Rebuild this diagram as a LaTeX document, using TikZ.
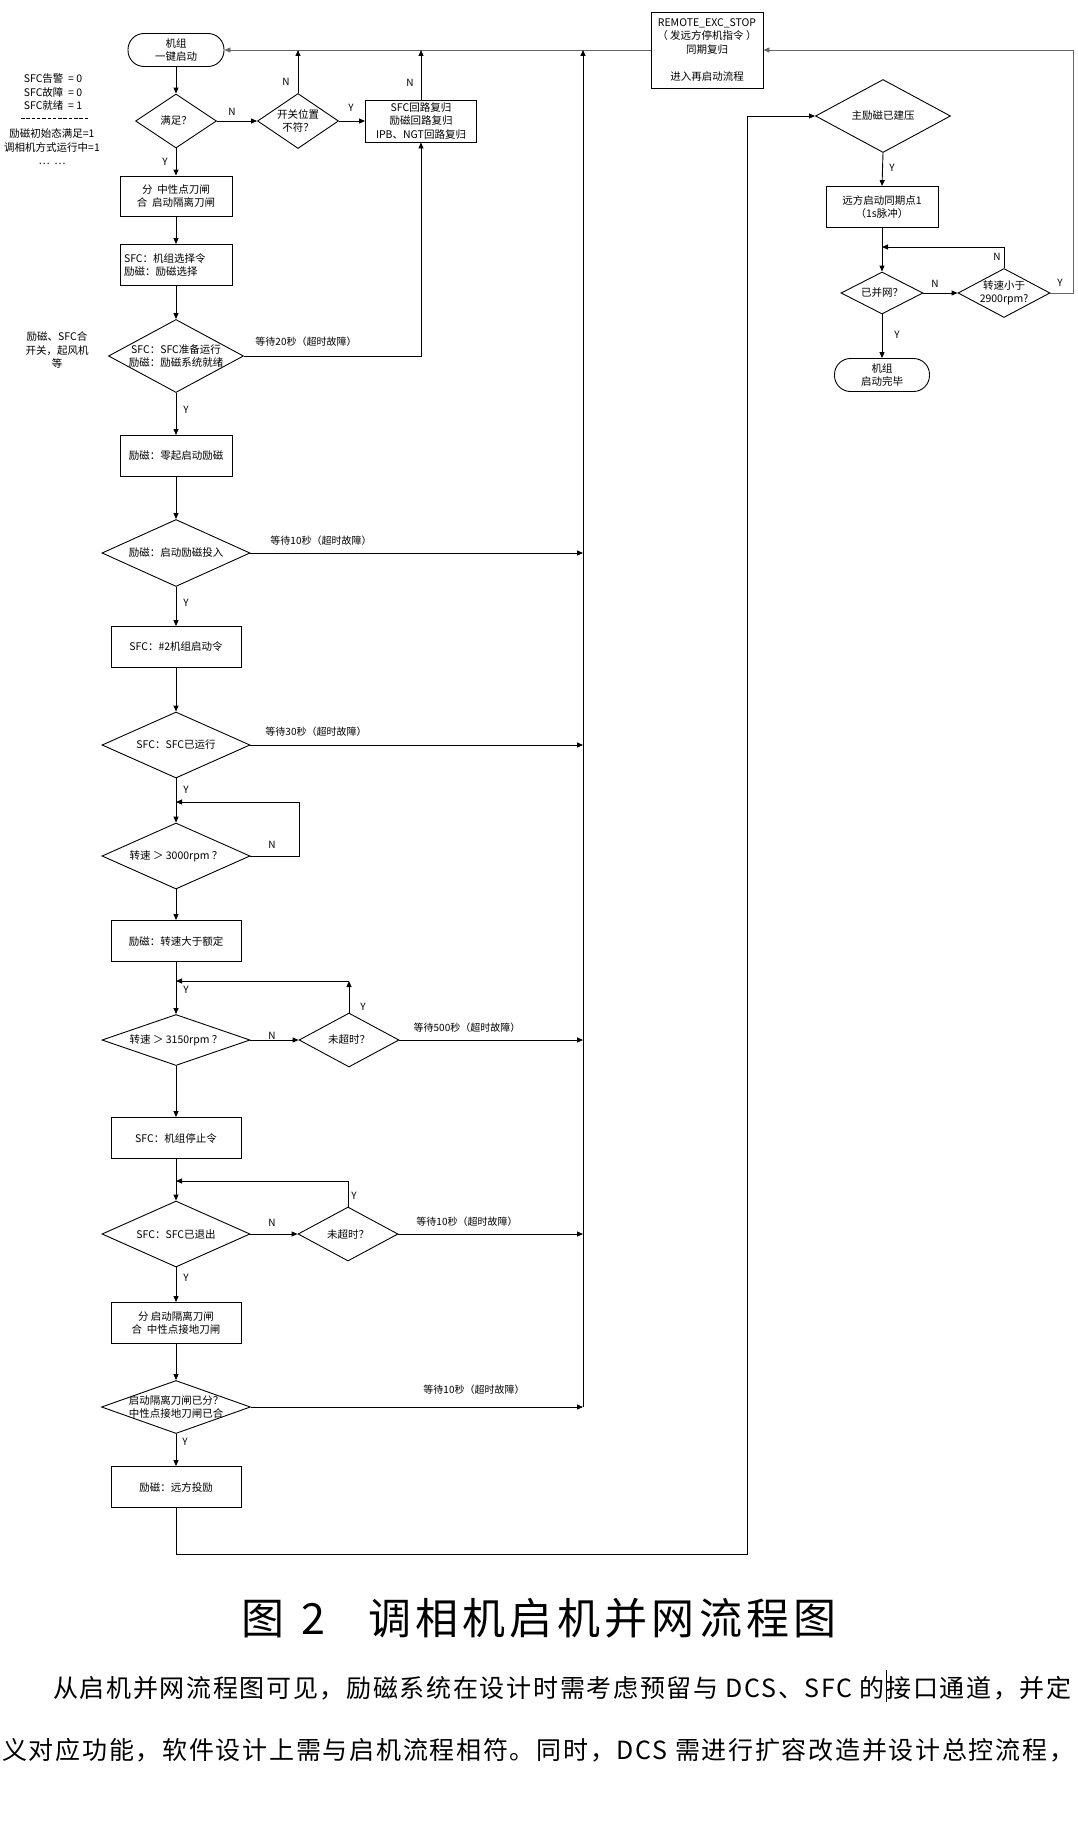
\documentclass[tikz,border=0pt]{standalone}
\usepackage{fontspec}
\usetikzlibrary{shapes.geometric,arrows.meta}
\newfontfamily\cjk{Noto Sans CJK SC}
\newfontfamily\capfont[LetterSpace=10]{Noto Sans CJK SC}
\newfontfamily\parfontA[LetterSpace=6.7]{Noto Sans CJK SC}
\newfontfamily\parfontB[LetterSpace=6.9]{Noto Sans CJK SC}
\tikzset{
  base/.style={font=\cjk\fontsize{10.5}{13.5}\selectfont, inner sep=0pt, align=center},
  box/.style={base, draw, line width=0.9pt, rectangle},
  term/.style={base, draw, line width=0.9pt, rectangle, rounded corners=16pt},
  dia/.style={draw, line width=0.9pt, diamond, inner sep=0pt},
  lab/.style={font=\cjk\fontsize{10}{12}\selectfont, inner sep=0pt},
  arr/.style={-{Triangle[length=6pt,width=5pt]}, line width=0.9pt},
  ln/.style={line width=0.9pt},
  mainln/.style={line width=1.3pt, draw=black!60},
  note/.style={font=\cjk\fontsize{10.5}{13.5}\selectfont, inner sep=0pt, align=center},
}
\begin{document}
\begin{tikzpicture}[x=1pt,y=-1pt]
\useasboundingbox[fill=white] (0,0) rectangle (1077,1844);

% ---------- left column ----------
\node[term, minimum width=96pt, minimum height=33pt] (start) at (176,50) {机组\\一键启动};
\node[dia, minimum width=81pt, minimum height=54pt, label={[base]center:满足？}] (d1) at (176,121) {};
\node[dia, minimum width=81pt, minimum height=55pt, label={[base]center:开关位置\\不符？}] (d2) at (298,121) {};
\node[box, minimum width=111pt, minimum height=42pt] (reset) at (421,121) {SFC回路复归\\励磁回路复归\\IPB、NGT回路复归};
\node[box, minimum width=112pt, minimum height=40pt] (b1) at (176,196) {分\ \ 中性点刀闸\\合\ \ 启动隔离刀闸};
\node[box, minimum width=112pt, minimum height=41pt, text width=104pt, align=left] (b2) at (176,265) {SFC：机组选择令\\励磁：励磁选择};
\node[dia, minimum width=135pt, minimum height=73pt, label={[base]center:SFC：SFC准备运行\\励磁：励磁系统就绪}] (d3) at (176,356) {};
\node[box, minimum width=112pt, minimum height=41pt] (b3) at (176,456) {励磁：零起启动励磁};
\node[dia, minimum width=148pt, minimum height=67pt, label={[base]center:励磁：启动励磁投入}] (d4) at (176,553) {};
\node[box, minimum width=130pt, minimum height=41pt] (b4) at (176,647) {SFC：\#2机组启动令};
\node[dia, minimum width=148pt, minimum height=66pt, label={[base]center:SFC：SFC已运行}] (d5) at (176,745) {};
\node[dia, minimum width=148pt, minimum height=66pt, label={[base]center:转速 ＞ 3000rpm ？}] (d6) at (176,856) {};
\node[box, minimum width=130pt, minimum height=41pt] (b5) at (176,941) {励磁：转速大于额定};
\node[dia, minimum width=148pt, minimum height=51pt, label={[base]center:转速 ＞ 3150rpm ？}] (d7) at (176,1040) {};
\node[dia, minimum width=100pt, minimum height=54pt, label={[base]center:未超时？}] (t1) at (349,1040) {};
\node[box, minimum width=130pt, minimum height=41pt] (b6) at (176,1138) {SFC：机组停止令};
\node[dia, minimum width=148pt, minimum height=66pt, label={[base]center:SFC：SFC已退出}] (d8) at (176,1234) {};
\node[dia, minimum width=100pt, minimum height=54pt, label={[base]center:未超时？}] (t2) at (348,1234) {};
\node[box, minimum width=130pt, minimum height=41pt] (b7) at (176,1323) {分\ 启动隔离刀闸\\合\ \ 中性点接地刀闸};
\node[dia, minimum width=149pt, minimum height=53pt, label={[base]center:启动隔离刀闸已分？\\中性点接地刀闸已合}] (d9) at (176,1407) {};
\node[box, minimum width=130pt, minimum height=41pt] (b8) at (176,1487) {励磁：远方投励};

% ---------- right column ----------
\node[box, minimum width=112pt, minimum height=76pt] (remote) at (707,50) {REMOTE\_EXC\_STOP\\（ 发远方停机指令 ）\\同期复归\\[13.5pt]进入再启动流程};
\node[dia, minimum width=135pt, minimum height=73pt, label={[base]center:主励磁已建压}] (d10) at (883,116) {};
\node[box, minimum width=112pt, minimum height=41pt] (b9) at (882,207) {远方启动同期点1\\（1s脉冲）};
\node[dia, minimum width=82pt, minimum height=42pt, label={[base]center:已并网？}] (d11) at (882,293) {};
\node[dia, minimum width=92pt, minimum height=49pt, label={[base]center:转速小于\\2900rpm?}] (d12) at (1004,293) {};
\node[term, minimum width=95pt, minimum height=33pt] (finish) at (882,375) {机组\\启动完毕};

% ---------- coordinates ----------
\coordinate (busA) at (583,553);
\coordinate (busB) at (583,745);
\coordinate (busC) at (583,1040);
\coordinate (busD) at (583,1234);
\coordinate (busE) at (583,1407);
\coordinate (busTop) at (583,50);
\coordinate (m2) at (298,50);
\coordinate (m3) at (421,50);
\coordinate (c1) at (349,981);
\coordinate (c2) at (348,1181);

% ---------- connectors ----------
\draw[mainln, arr] (remote.west) -- (start.east);
\draw[arr] (start.south) -- (d1.north);
\draw[arr] (d1.east) -- (d2.west);
\draw[arr] (d2.east) -- (reset.west);
\draw[arr] (d2.north) -- (m2);
\draw[arr] (reset.north) -- (m3);
\draw[arr] (d1.south) -- (b1.north);
\draw[arr] (b1.south) -- (b2.north);
\draw[arr] (b2.south) -- (d3.north);
\draw[arr] (d3.east) -- (421,356) -- (reset.south);
\draw[arr] (d3.south) -- (b3.north);
\draw[arr] (b3.south) -- (d4.north);
\draw[arr] (d4.east) -- (busA);
\draw[arr] (d4.south) -- (b4.north);
\draw[arr] (b4.south) -- (d5.north);
\draw[arr] (d5.east) -- (busB);
\draw[arr] (d5.south) -- (d6.north);
\draw[arr] (d6.east) -- (299,856) -- (299,802) -- (176,802);
\draw[arr] (d6.south) -- (b5.north);
\draw[arr] (b5.south) -- (d7.north);
\draw[arr] (d7.east) -- (t1.west);
\draw[arr] (t1.north) -- (c1);
\draw[arr] (c1) -- (176,981);
\draw[arr] (t1.east) -- (busC);
\draw[arr] (d7.south) -- (b6.north);
\draw[arr] (b6.south) -- (d8.north);
\draw[arr] (d8.east) -- (t2.west);
\draw[arr] (t2.north) -- (c2) -- (176,1181);
\draw[arr] (t2.east) -- (busD);
\draw[arr] (d8.south) -- (b7.north);
\draw[arr] (b7.south) -- (d9.north);
\draw[arr] (d9.east) -- (busE);
\draw[arr] (d9.south) -- (b8.north);
\draw[arr] (busE) -- (busTop);
\draw[arr] (b8.south) -- (176,1554) -- (747,1554) -- (747,116) -- (d10.west);
\draw[arr] (d10.south) -- (b9.north);
\draw[arr] (b9.south) -- (d11.north);
\draw[arr] (d11.east) -- (d12.west);
\draw[arr] (d12.north) -- (1004,247) -- (882,247);
\draw[mainln, arr] (d12.east) -- (1073,293) -- (1073,50) -- (remote.east);
\draw[arr] (d11.south) -- (finish.north);

% ---------- labels ----------
\node[lab] (l1) at (232,112) {N};
\node[lab] (l2) at (286,82) {N};
\node[lab] (l3) at (351,108) {Y};
\node[lab] (l4) at (410,83) {N};
\node[lab] (l5) at (165,162) {Y};
\node[lab] (l6) at (306,342) {等待20秒（超时故障）};
\node[lab] (l7) at (186,410) {Y};
\node[lab] (l8) at (321,541) {等待10秒（超时故障）};
\node[lab] (l9) at (186,603) {Y};
\node[lab] (l10) at (316,732) {等待30秒（超时故障）};
\node[lab] (l11) at (186,790) {Y};
\node[lab] (l12) at (272,845) {N};
\node[lab] (l13) at (186,990) {Y};
\node[lab] (l14) at (272,1036) {N};
\node[lab] (l15) at (363,1007) {Y};
\node[lab] (l16) at (467,1028) {等待500秒（超时故障）};
\node[lab] (l17) at (272,1223) {N};
\node[lab] (l18) at (354,1196) {Y};
\node[lab] (l19) at (467,1222) {等待10秒（超时故障）};
\node[lab] (l20) at (186,1278) {Y};
\node[lab] (l21) at (474,1390) {等待10秒（超时故障）};
\node[lab] (l22) at (185,1442) {Y};
\node[lab] (l23) at (892,168) {Y};
\node[lab] (l24) at (935,284) {N};
\node[lab] (l25) at (997,257) {N};
\node[lab] (l26) at (1060,283) {Y};
\node[lab] (l27) at (897,335) {Y};

% ---------- side notes ----------
\node[note] (n1) at (53,92.5) {SFC告警\ \ =\ 0\\SFC故障\ \ =\ 0\\SFC就绪\ \ =\ 1};
\draw[line width=0.8pt, dash pattern=on 3.5pt off 1.8pt] (21,118) -- (89,118);
\node[note] (n2) at (52,147) {励磁初始态满足=1\\调相机方式运行中=1\\…\ \ …};
\node[note, text width=70pt] (n3) at (57,350) {励磁、SFC合\\开关，起风机\\等};

% ---------- caption and text ----------
\node[font=\capfont\fontsize{43}{50}\selectfont, inner sep=0pt, anchor=west] (cap) at (241,1618) {图\hspace{17pt}2\hspace{43pt}调相机启机并网流程图};
\node[font=\parfontA\fontsize{25}{30}\selectfont, inner sep=0pt, anchor=west] (p1) at (53,1688) {从启机并网流程图可见，励磁系统在设计时需考虑预留与 DCS、SFC 的接口通道，并定};
\node[font=\parfontB\fontsize{25}{30}\selectfont, inner sep=0pt, anchor=west] (p2) at (2,1750) {义对应功能，软件设计上需与启机流程相符。同时，DCS 需进行扩容改造并设计总控流程，};
\draw[line width=1pt] (886,1670) -- (886,1702);
\end{tikzpicture}
\end{document}
